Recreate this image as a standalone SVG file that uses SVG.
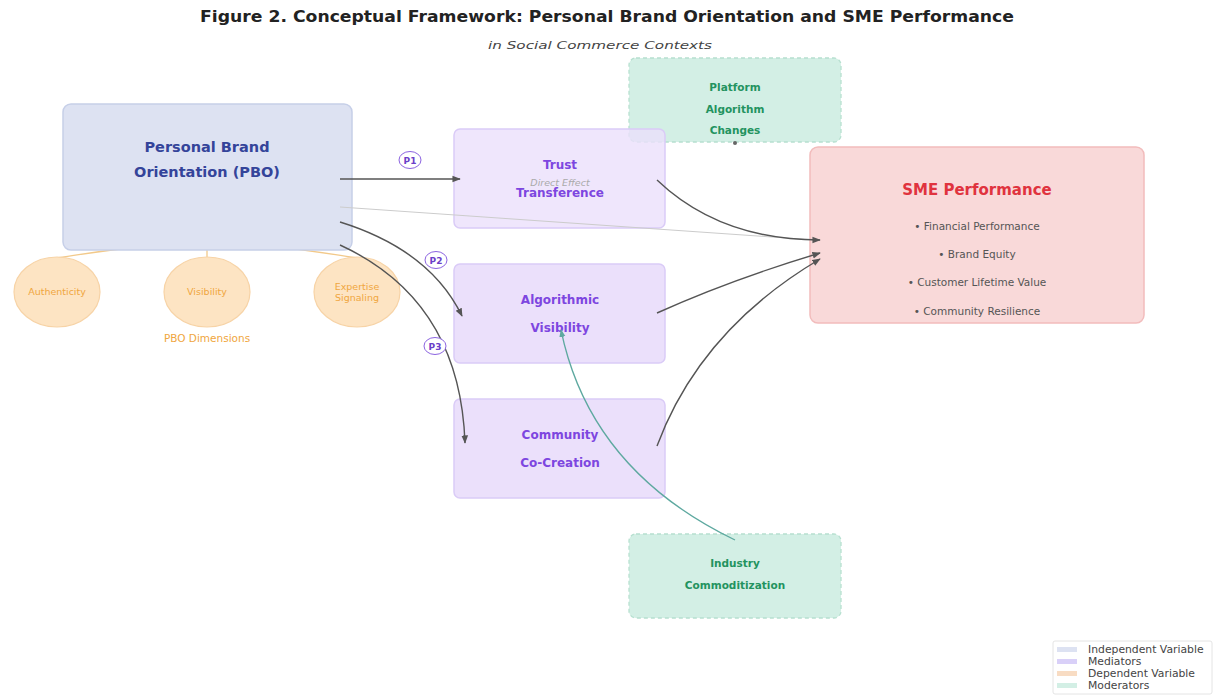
<svg xmlns="http://www.w3.org/2000/svg" width="1213" height="695" viewBox="0 0 1213 695">
<style>
text{font-family:"DejaVu Sans",sans-serif}
.title{font-size:15px;font-weight:bold;fill:#222}
.sub{font-size:11px;font-style:italic;fill:#444}
.pbo{fill:#dde2f2;stroke:#c6cfe8;stroke-width:1.5}
.pbot{font-size:14.5px;font-weight:bold;fill:#34449a}
.dim{fill:#fde4c3;stroke:#f7d3a6;stroke-width:1.2}
.dimt{font-size:9.5px;fill:#f0a640}
.med{fill:#ebe0fb;stroke:#dacbf7;stroke-width:1.5}
.medt{font-size:12px;font-weight:bold;fill:#7d46e0}
.mod{fill:#d3efe5;stroke:#b7e0d0;stroke-width:1.3;stroke-dasharray:4 3}
.modt{font-size:10.5px;font-weight:bold;fill:#23935f}
.dep{fill:#f9d9d9;stroke:#f2bcbc;stroke-width:1.5}
.dept{font-size:15px;font-weight:bold;fill:#e0333e}
.bul{font-size:10.5px;fill:#555}
.conn{fill:none;stroke:#555;stroke-width:1.4}
.plab{fill:#fff;stroke:#8b63e0;stroke-width:1}
.plabt{font-size:9px;font-weight:bold;fill:#6b40c8}
.leg{font-size:10.8px;fill:#444}
</style>
<defs>
<marker id="ah" viewBox="0 0 10 10" refX="9" refY="5" markerWidth="6" markerHeight="6" orient="auto">
<path d="M0,1 L10,5 L0,9 z" fill="#555"/>
</marker>
<marker id="aht" viewBox="0 0 10 10" refX="9" refY="5" markerWidth="6" markerHeight="6" orient="auto">
<path d="M0,1 L10,5 L0,9 z" fill="#5ea9a0"/>
</marker>
</defs>
<rect width="1213" height="695" fill="#fff"/>
<text class="title" x="607" y="22" text-anchor="middle" textLength="814" lengthAdjust="spacingAndGlyphs">Figure 2. Conceptual Framework: Personal Brand Orientation and SME Performance</text>
<text class="sub" x="600" y="49" text-anchor="middle" textLength="224" lengthAdjust="spacingAndGlyphs">in Social Commerce Contexts</text>

<g id="pbo-dim-links" fill="none" stroke="#f2c98a" stroke-width="1.3">
<path d="M207,241 Q130,246 57,258"/>
<path d="M207,241 L207,257"/>
<path d="M207,241 Q285,246 357,258"/>
</g>

<g id="node-pbo">
<rect class="pbo" x="63" y="104" width="289" height="146" rx="8"/>
<text class="pbot" x="207" y="152" text-anchor="middle">Personal Brand</text>
<text class="pbot" x="207" y="177" text-anchor="middle">Orientation (PBO)</text>
</g>
<g id="node-authenticity">
<ellipse class="dim" cx="57" cy="292" rx="43" ry="35"/>
<text class="dimt" x="57" y="295" text-anchor="middle">Authenticity</text>
</g>
<g id="node-visibility">
<ellipse class="dim" cx="207" cy="292" rx="43" ry="35"/>
<text class="dimt" x="207" y="295" text-anchor="middle">Visibility</text>
</g>
<g id="node-expertise">
<ellipse class="dim" cx="357" cy="292" rx="43" ry="35"/>
<text class="dimt" x="357" y="290" text-anchor="middle">Expertise</text>
<text class="dimt" x="357" y="301" text-anchor="middle">Signaling</text>
</g>
<text class="dimt" x="207" y="342" text-anchor="middle" style="font-size:10.5px">PBO Dimensions</text>

<g id="node-platform">
<rect class="mod" x="629" y="58" width="212" height="84" rx="7"/>
<text class="modt" x="735" y="91" text-anchor="middle">Platform</text>
<text class="modt" x="735" y="113" text-anchor="middle">Algorithm</text>
<text class="modt" x="735" y="134" text-anchor="middle">Changes</text>
</g>

<g id="node-trust">
<rect class="med" x="454" y="129" width="211" height="99" rx="6" fill-opacity="0.8"/>
<text class="medt" x="560" y="169" text-anchor="middle">Trust</text>
<text class="medt" x="560" y="197" text-anchor="middle">Transference</text>
</g>
<g id="node-algo">
<rect class="med" x="454" y="264" width="211" height="99" rx="6"/>
<text class="medt" x="560" y="304" text-anchor="middle">Algorithmic</text>
<text class="medt" x="560" y="332" text-anchor="middle">Visibility</text>
</g>
<g id="node-community">
<rect class="med" x="454" y="399" width="211" height="99" rx="6"/>
<text class="medt" x="560" y="439" text-anchor="middle">Community</text>
<text class="medt" x="560" y="467" text-anchor="middle">Co-Creation</text>
</g>

<g id="node-sme">
<rect class="dep" x="810" y="147" width="334" height="176" rx="8"/>
<text class="dept" x="977" y="195" text-anchor="middle">SME Performance</text>
<text class="bul" x="977" y="230" text-anchor="middle">• Financial Performance</text>
<text class="bul" x="977" y="258" text-anchor="middle">• Brand Equity</text>
<text class="bul" x="977" y="286" text-anchor="middle">• Customer Lifetime Value</text>
<text class="bul" x="977" y="315" text-anchor="middle">• Community Resilience</text>
</g>

<g id="node-industry">
<rect class="mod" x="629" y="534" width="212" height="84" rx="7"/>
<text class="modt" x="735" y="567" text-anchor="middle">Industry</text>
<text class="modt" x="735" y="589" text-anchor="middle">Commoditization</text>
</g>

<g id="connectors">
<path d="M340,207 L815,240" fill="none" stroke="#ccc" stroke-width="1"/>
<text x="560" y="186" text-anchor="middle" style="font-size:9.5px;font-style:italic;fill:#aaa">Direct Effect</text>
<path class="conn" d="M340,179 L460,179" marker-end="url(#ah)"/>
<path class="conn" d="M340,222 Q430,250 462,316" marker-end="url(#ah)"/>
<path class="conn" d="M340,245 Q460,300 465,443" marker-end="url(#ah)"/>
<path class="conn" d="M657,180 Q720,240 820,240" marker-end="url(#ah)"/>
<path class="conn" d="M657,313 Q730,280 820,253" marker-end="url(#ah)"/>
<path class="conn" d="M657,446 Q700,330 820,259" marker-end="url(#ah)"/>
<path d="M735,540 Q590,470 561,330" fill="none" stroke="#5ea9a0" stroke-width="1.3" marker-end="url(#aht)"/>
<circle cx="735" cy="143" r="2" fill="#666"/>
<ellipse class="plab" cx="410" cy="160" rx="11" ry="8.5"/>
<text class="plabt" x="410" y="163.5" text-anchor="middle">P1</text>
<ellipse class="plab" cx="436" cy="260" rx="11" ry="8.5"/>
<text class="plabt" x="436" y="263.5" text-anchor="middle">P2</text>
<ellipse class="plab" cx="435" cy="346" rx="11" ry="8.5"/>
<text class="plabt" x="435" y="349.5" text-anchor="middle">P3</text>
</g>

<g id="legend">
<rect x="1053" y="641" width="159" height="53" fill="#fff" stroke="#ddd" stroke-width="0.8" rx="2"/>
<rect x="1057" y="647" width="20" height="5" fill="#dde2f2"/>
<text class="leg" x="1088" y="653">Independent Variable</text>
<rect x="1057" y="659" width="20" height="5" fill="#d9d0f8"/>
<text class="leg" x="1088" y="665">Mediators</text>
<rect x="1057" y="671" width="20" height="5" fill="#f8dcc3"/>
<text class="leg" x="1088" y="677">Dependent Variable</text>
<rect x="1057" y="683" width="20" height="5" fill="#d3efe5"/>
<text class="leg" x="1088" y="689">Moderators</text>
</g>
</svg>
